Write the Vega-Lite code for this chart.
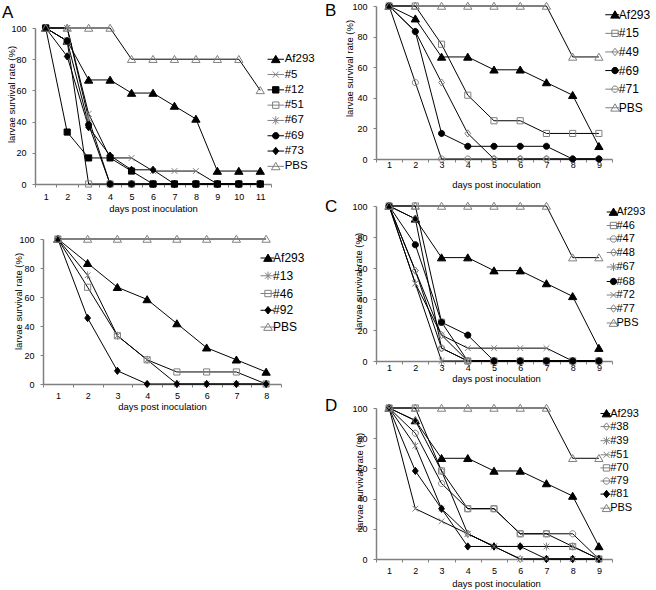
{
"$schema": "https://vega.github.io/schema/vega-lite/v6.json",
"autosize": {"type": "pad"},
"padding": {"left": 2, "top": 0, "right": 4, "bottom": 4},
"background": "white",
"config": {
  "view": {"stroke": null},
  "font": "Liberation Sans",
  "axis": {"labelFont": "Liberation Sans", "titleFont": "Liberation Sans", "labelFontSize": 9, "titleFontSize": 9.5, "titleFontWeight": "normal", "labelColor": "black", "titleColor": "black", "domainColor": "#808080", "domainWidth": 1.5, "tickColor": "#808080", "tickSize": 3, "grid": false},
  "legend": {"labelFont": "Liberation Sans", "labelColor": "black", "padding": 0, "symbolSize": 56, "symbolStrokeWidth": 1, "orient": "none"},
  "title": {"font": "Liberation Sans", "fontSize": 17, "fontWeight": "normal", "anchor": "start", "frame": "group", "offset": 0, "baseline": "bottom", "color": "black"}
},
"datasets": {
"atop": [
{"s":"Af293","d":1,"v":100},{"s":"Af293","d":2,"v":91.7},{"s":"Af293","d":3,"v":66.7},{"s":"Af293","d":4,"v":66.7},{"s":"Af293","d":5,"v":58.3},{"s":"Af293","d":6,"v":58.3},{"s":"Af293","d":7,"v":50},{"s":"Af293","d":8,"v":41.7},{"s":"Af293","d":9,"v":8.3},{"s":"Af293","d":10,"v":8.3},{"s":"Af293","d":11,"v":8.3},
{"s":"#5","d":1,"v":100},{"s":"#5","d":2,"v":100},{"s":"#5","d":3,"v":45},{"s":"#5","d":4,"v":16.7},{"s":"#5","d":5,"v":16.7},{"s":"#5","d":6,"v":8.3},{"s":"#5","d":7,"v":8.3},{"s":"#5","d":8,"v":8.3},{"s":"#5","d":9,"v":0},{"s":"#5","d":10,"v":0},{"s":"#5","d":11,"v":0},
{"s":"#51","d":1,"v":100},{"s":"#51","d":2,"v":91.7},{"s":"#51","d":3,"v":0},{"s":"#51","d":4,"v":0},{"s":"#51","d":5,"v":0},{"s":"#51","d":6,"v":0},{"s":"#51","d":7,"v":0},{"s":"#51","d":8,"v":0},{"s":"#51","d":9,"v":0},{"s":"#51","d":10,"v":0},{"s":"#51","d":11,"v":0},
{"s":"#67","d":1,"v":100},{"s":"#67","d":2,"v":100},{"s":"#67","d":3,"v":41.7},{"s":"#67","d":4,"v":0},{"s":"#67","d":5,"v":0},{"s":"#67","d":6,"v":0},{"s":"#67","d":7,"v":0},{"s":"#67","d":8,"v":0},{"s":"#67","d":9,"v":0},{"s":"#67","d":10,"v":0},{"s":"#67","d":11,"v":0},
{"s":"#69","d":1,"v":100},{"s":"#69","d":2,"v":91.7},{"s":"#69","d":3,"v":38},{"s":"#69","d":4,"v":0},{"s":"#69","d":5,"v":0},{"s":"#69","d":6,"v":0},{"s":"#69","d":7,"v":0},{"s":"#69","d":8,"v":0},{"s":"#69","d":9,"v":0},{"s":"#69","d":10,"v":0},{"s":"#69","d":11,"v":0},
{"s":"#73","d":1,"v":100},{"s":"#73","d":2,"v":81.8},{"s":"#73","d":3,"v":36.4},{"s":"#73","d":4,"v":18.2},{"s":"#73","d":5,"v":9.1},{"s":"#73","d":6,"v":9.1},{"s":"#73","d":7,"v":0},{"s":"#73","d":8,"v":0},{"s":"#73","d":9,"v":0},{"s":"#73","d":10,"v":0},{"s":"#73","d":11,"v":0},
{"s":"#12","d":1,"v":100},{"s":"#12","d":2,"v":33.3},{"s":"#12","d":3,"v":16.7},{"s":"#12","d":4,"v":16.7},{"s":"#12","d":5,"v":8.3},{"s":"#12","d":6,"v":0},{"s":"#12","d":7,"v":0},{"s":"#12","d":8,"v":0},{"s":"#12","d":9,"v":0},{"s":"#12","d":10,"v":0},{"s":"#12","d":11,"v":0},
{"s":"PBS","d":1,"v":100},{"s":"PBS","d":2,"v":100},{"s":"PBS","d":3,"v":100},{"s":"PBS","d":4,"v":100},{"s":"PBS","d":5,"v":80},{"s":"PBS","d":6,"v":80},{"s":"PBS","d":7,"v":80},{"s":"PBS","d":8,"v":80},{"s":"PBS","d":9,"v":80},{"s":"PBS","d":10,"v":80},{"s":"PBS","d":11,"v":60}
],
"abot": [
{"s":"Af293","d":1,"v":100},{"s":"Af293","d":2,"v":83.3},{"s":"Af293","d":3,"v":66.7},{"s":"Af293","d":4,"v":58.3},{"s":"Af293","d":5,"v":41.7},{"s":"Af293","d":6,"v":25},{"s":"Af293","d":7,"v":16.7},{"s":"Af293","d":8,"v":8.3},
{"s":"#13","d":1,"v":100},{"s":"#13","d":2,"v":75},{"s":"#13","d":3,"v":33.3},{"s":"#13","d":4,"v":16.7},{"s":"#13","d":5,"v":0},{"s":"#13","d":6,"v":0},{"s":"#13","d":7,"v":0},{"s":"#13","d":8,"v":0},
{"s":"#46","d":1,"v":100},{"s":"#46","d":2,"v":66.7},{"s":"#46","d":3,"v":33.3},{"s":"#46","d":4,"v":16.7},{"s":"#46","d":5,"v":8.3},{"s":"#46","d":6,"v":8.3},{"s":"#46","d":7,"v":8.3},{"s":"#46","d":8,"v":0},
{"s":"#92","d":1,"v":100},{"s":"#92","d":2,"v":45.5},{"s":"#92","d":3,"v":9.1},{"s":"#92","d":4,"v":0},{"s":"#92","d":5,"v":0},{"s":"#92","d":6,"v":0},{"s":"#92","d":7,"v":0},{"s":"#92","d":8,"v":0},
{"s":"PBS","d":1,"v":100},{"s":"PBS","d":2,"v":100},{"s":"PBS","d":3,"v":100},{"s":"PBS","d":4,"v":100},{"s":"PBS","d":5,"v":100},{"s":"PBS","d":6,"v":100},{"s":"PBS","d":7,"v":100},{"s":"PBS","d":8,"v":100}
],
"pb": [
{"s":"Af293","d":1,"v":100},{"s":"Af293","d":2,"v":91.7},{"s":"Af293","d":3,"v":66.7},{"s":"Af293","d":4,"v":66.7},{"s":"Af293","d":5,"v":58.3},{"s":"Af293","d":6,"v":58.3},{"s":"Af293","d":7,"v":50},{"s":"Af293","d":8,"v":41.7},{"s":"Af293","d":9,"v":8.3},
{"s":"#15","d":1,"v":100},{"s":"#15","d":2,"v":100},{"s":"#15","d":3,"v":75},{"s":"#15","d":4,"v":41.7},{"s":"#15","d":5,"v":25},{"s":"#15","d":6,"v":25},{"s":"#15","d":7,"v":16.7},{"s":"#15","d":8,"v":16.7},{"s":"#15","d":9,"v":16.7},
{"s":"#49","d":1,"v":100},{"s":"#49","d":2,"v":83.3},{"s":"#49","d":3,"v":50},{"s":"#49","d":4,"v":16.7},{"s":"#49","d":5,"v":0},{"s":"#49","d":6,"v":0},{"s":"#49","d":7,"v":0},{"s":"#49","d":8,"v":0},{"s":"#49","d":9,"v":0},
{"s":"#71","d":1,"v":100},{"s":"#71","d":2,"v":50},{"s":"#71","d":3,"v":0},{"s":"#71","d":4,"v":0},{"s":"#71","d":5,"v":0},{"s":"#71","d":6,"v":0},{"s":"#71","d":7,"v":0},{"s":"#71","d":8,"v":0},{"s":"#71","d":9,"v":0},
{"s":"#69","d":1,"v":100},{"s":"#69","d":2,"v":83.3},{"s":"#69","d":3,"v":16.7},{"s":"#69","d":4,"v":8.3},{"s":"#69","d":5,"v":8.3},{"s":"#69","d":6,"v":8.3},{"s":"#69","d":7,"v":8.3},{"s":"#69","d":8,"v":0},{"s":"#69","d":9,"v":0},
{"s":"PBS","d":1,"v":100},{"s":"PBS","d":2,"v":100},{"s":"PBS","d":3,"v":100},{"s":"PBS","d":4,"v":100},{"s":"PBS","d":5,"v":100},{"s":"PBS","d":6,"v":100},{"s":"PBS","d":7,"v":100},{"s":"PBS","d":8,"v":66.7},{"s":"PBS","d":9,"v":66.7}
],
"pc": [
{"s":"Af293","d":1,"v":100},{"s":"Af293","d":2,"v":91.7},{"s":"Af293","d":3,"v":66.7},{"s":"Af293","d":4,"v":66.7},{"s":"Af293","d":5,"v":58.3},{"s":"Af293","d":6,"v":58.3},{"s":"Af293","d":7,"v":50},{"s":"Af293","d":8,"v":41.7},{"s":"Af293","d":9,"v":8.3},
{"s":"#47","d":1,"v":100},{"s":"#47","d":2,"v":91.7},{"s":"#47","d":3,"v":8.3},{"s":"#47","d":4,"v":0},{"s":"#47","d":5,"v":0},{"s":"#47","d":6,"v":0},{"s":"#47","d":7,"v":0},{"s":"#47","d":8,"v":0},{"s":"#47","d":9,"v":0},
{"s":"#48","d":1,"v":100},{"s":"#48","d":2,"v":58.3},{"s":"#48","d":3,"v":16.7},{"s":"#48","d":4,"v":0},{"s":"#48","d":5,"v":0},{"s":"#48","d":6,"v":0},{"s":"#48","d":7,"v":0},{"s":"#48","d":8,"v":0},{"s":"#48","d":9,"v":0},
{"s":"#67","d":1,"v":100},{"s":"#67","d":2,"v":50},{"s":"#67","d":3,"v":0},{"s":"#67","d":4,"v":0},{"s":"#67","d":5,"v":0},{"s":"#67","d":6,"v":0},{"s":"#67","d":7,"v":0},{"s":"#67","d":8,"v":0},{"s":"#67","d":9,"v":0},
{"s":"#77","d":1,"v":100},{"s":"#77","d":2,"v":58.3},{"s":"#77","d":3,"v":8.3},{"s":"#77","d":4,"v":0},{"s":"#77","d":5,"v":0},{"s":"#77","d":6,"v":0},{"s":"#77","d":7,"v":0},{"s":"#77","d":8,"v":0},{"s":"#77","d":9,"v":0},
{"s":"#72","d":1,"v":100},{"s":"#72","d":2,"v":50},{"s":"#72","d":3,"v":16.7},{"s":"#72","d":4,"v":8.3},{"s":"#72","d":5,"v":8.3},{"s":"#72","d":6,"v":8.3},{"s":"#72","d":7,"v":8.3},{"s":"#72","d":8,"v":0},{"s":"#72","d":9,"v":0},
{"s":"#46","d":1,"v":100},{"s":"#46","d":2,"v":100},{"s":"#46","d":3,"v":25},{"s":"#46","d":4,"v":0},{"s":"#46","d":5,"v":0},{"s":"#46","d":6,"v":0},{"s":"#46","d":7,"v":0},{"s":"#46","d":8,"v":0},{"s":"#46","d":9,"v":0},
{"s":"#68","d":1,"v":100},{"s":"#68","d":2,"v":75},{"s":"#68","d":3,"v":25},{"s":"#68","d":4,"v":16.7},{"s":"#68","d":5,"v":0},{"s":"#68","d":6,"v":0},{"s":"#68","d":7,"v":0},{"s":"#68","d":8,"v":0},{"s":"#68","d":9,"v":0},
{"s":"PBS","d":1,"v":100},{"s":"PBS","d":2,"v":100},{"s":"PBS","d":3,"v":100},{"s":"PBS","d":4,"v":100},{"s":"PBS","d":5,"v":100},{"s":"PBS","d":6,"v":100},{"s":"PBS","d":7,"v":100},{"s":"PBS","d":8,"v":66.7},{"s":"PBS","d":9,"v":66.7}
],
"pd": [
{"s":"Af293","d":1,"v":100},{"s":"Af293","d":2,"v":91.7},{"s":"Af293","d":3,"v":66.7},{"s":"Af293","d":4,"v":66.7},{"s":"Af293","d":5,"v":58.3},{"s":"Af293","d":6,"v":58.3},{"s":"Af293","d":7,"v":50},{"s":"Af293","d":8,"v":41.7},{"s":"Af293","d":9,"v":8.3},
{"s":"#38","d":1,"v":100},{"s":"#38","d":2,"v":91.7},{"s":"#38","d":3,"v":58.3},{"s":"#38","d":4,"v":16.7},{"s":"#38","d":5,"v":8.3},{"s":"#38","d":6,"v":0},{"s":"#38","d":7,"v":0},{"s":"#38","d":8,"v":0},{"s":"#38","d":9,"v":0},
{"s":"#39","d":1,"v":100},{"s":"#39","d":2,"v":75},{"s":"#39","d":3,"v":33.3},{"s":"#39","d":4,"v":16.7},{"s":"#39","d":5,"v":8.3},{"s":"#39","d":6,"v":8.3},{"s":"#39","d":7,"v":8.3},{"s":"#39","d":8,"v":8.3},{"s":"#39","d":9,"v":0},
{"s":"#70","d":1,"v":100},{"s":"#70","d":2,"v":100},{"s":"#70","d":3,"v":58.3},{"s":"#70","d":4,"v":33.3},{"s":"#70","d":5,"v":33.3},{"s":"#70","d":6,"v":16.7},{"s":"#70","d":7,"v":16.7},{"s":"#70","d":8,"v":8.3},{"s":"#70","d":9,"v":0},
{"s":"#79","d":1,"v":100},{"s":"#79","d":2,"v":83.3},{"s":"#79","d":3,"v":50},{"s":"#79","d":4,"v":33.3},{"s":"#79","d":5,"v":33.3},{"s":"#79","d":6,"v":16.7},{"s":"#79","d":7,"v":16.7},{"s":"#79","d":8,"v":16.7},{"s":"#79","d":9,"v":0},
{"s":"#81","d":1,"v":100},{"s":"#81","d":2,"v":58.3},{"s":"#81","d":3,"v":33.3},{"s":"#81","d":4,"v":8.3},{"s":"#81","d":5,"v":8.3},{"s":"#81","d":6,"v":8.3},{"s":"#81","d":7,"v":0},{"s":"#81","d":8,"v":0},{"s":"#81","d":9,"v":0},
{"s":"#51","d":1,"v":100},{"s":"#51","d":2,"v":33.3},{"s":"#51","d":3,"v":25},{"s":"#51","d":4,"v":16.7},{"s":"#51","d":5,"v":8.3},{"s":"#51","d":6,"v":0},{"s":"#51","d":7,"v":0},{"s":"#51","d":8,"v":0},{"s":"#51","d":9,"v":0},
{"s":"PBS","d":1,"v":100},{"s":"PBS","d":2,"v":100},{"s":"PBS","d":3,"v":100},{"s":"PBS","d":4,"v":100},{"s":"PBS","d":5,"v":100},{"s":"PBS","d":6,"v":100},{"s":"PBS","d":7,"v":100},{"s":"PBS","d":8,"v":66.7},{"s":"PBS","d":9,"v":66.7}
]
},
"columns": 2,
"bounds": "flush",
"align": "all",
"spacing": {"row": 20, "column": 95},
"resolve": {"scale": {"shape": "independent", "fill": "independent", "stroke": "independent"}, "legend": {"shape": "independent", "fill": "independent", "stroke": "independent"}},
"concat": [
{
"width": 236, "height": 180,
"title": {"text": "A", "dx": -33, "dy": 20},
"data": {"name": "atop"},
"encoding": {
  "x": {"field": "d", "type": "ordinal", "scale": {"type": "band", "paddingInner": 0, "paddingOuter": 0}, "axis": {"title": "days post inoculation", "labelAngle": 0, "tickBand": "extent", "offset": -2, "labelPadding": 5, "titleX": 118, "titleY": 24, "titleBaseline": "middle"}},
  "y": {"field": "v", "type": "quantitative", "scale": {"domain": [0, 100], "nice": false, "range": [178, 22]}, "axis": {"values": [0,20,40,60,80,100], "title": "larvae survival rate (%)", "labelPadding": 6, "titleX": -23.6, "titleY": 88, "titleBaseline": "middle"}}
},
"layer": [
  {"mark": {"type": "line", "color": "black", "strokeWidth": 1}, "encoding": {"detail": {"field": "s"}}},
  {"mark": {"type": "point", "opacity": 1, "size": 52, "strokeWidth": 1},
   "encoding": {
     "shape": {"field": "s", "type": "nominal", "legend": null, "scale": {"domain": ["PBS","#73","#69","#67","#51","#12","#5","Af293"], "range": ["M0,-1.05L1.15,0.9L-1.15,0.9Z","M0,-1L0.8,0L0,1L-0.8,0Z","M-0.85,0A0.85,0.85,0,1,0,0.85,0A0.85,0.85,0,1,0,-0.85,0Z","M-0.8,-0.8L0.8,0.8M-0.8,0.8L0.8,-0.8M0,-1.1V1.1","M-0.85,-0.85H0.85V0.85H-0.85Z","M-0.85,-0.85H0.85V0.85H-0.85Z","M-0.8,-0.8L0.8,0.8M-0.8,0.8L0.8,-0.8","M0,-1.05L1.15,0.9L-1.15,0.9Z"]}},
     "fill": {"field": "s", "type": "nominal", "scale": {"domain": ["Af293","#5","#12","#51","#67","#69","#73","PBS"], "range": ["black","transparent","black","transparent","transparent","black","black","transparent"]},
       "legend": {"title": null, "legendX": 235, "legendY": 47.5, "labelFontSize": 11.5, "rowPadding": 2.3, "labelOffset": 3.2,
         "symbolType": {"expr": "'M-2.2,0H2.2' + ({'Af293':'M0,-1.05L1.15,0.9L-1.15,0.9Z','#5':'M-0.8,-0.8L0.8,0.8M-0.8,0.8L0.8,-0.8','#12':'M-0.85,-0.85H0.85V0.85H-0.85Z','#51':'M-0.85,-0.85H0.85V0.85H-0.85Z','#67':'M-0.8,-0.8L0.8,0.8M-0.8,0.8L0.8,-0.8M0,-1.1V1.1','#69':'M-0.85,0A0.85,0.85,0,1,0,0.85,0A0.85,0.85,0,1,0,-0.85,0Z','#73':'M0,-1L0.8,0L0,1L-0.8,0Z','PBS':'M0,-1.05L1.15,0.9L-1.15,0.9Z'})[datum.value]"}}},
     "stroke": {"field": "s", "type": "nominal", "scale": {"domain": ["Af293","#5","#12","#51","#67","#69","#73","PBS"], "range": ["black","#808080","black","#808080","#808080","black","black","#808080"]},
       "legend": {"title": null, "legendX": 235, "legendY": 47.5, "labelFontSize": 11.5, "rowPadding": 2.3, "labelOffset": 3.2,
         "symbolType": {"expr": "'M-2.2,0H2.2' + ({'Af293':'M0,-1.05L1.15,0.9L-1.15,0.9Z','#5':'M-0.8,-0.8L0.8,0.8M-0.8,0.8L0.8,-0.8','#12':'M-0.85,-0.85H0.85V0.85H-0.85Z','#51':'M-0.85,-0.85H0.85V0.85H-0.85Z','#67':'M-0.8,-0.8L0.8,0.8M-0.8,0.8L0.8,-0.8M0,-1.1V1.1','#69':'M-0.85,0A0.85,0.85,0,1,0,0.85,0A0.85,0.85,0,1,0,-0.85,0Z','#73':'M0,-1L0.8,0L0,1L-0.8,0Z','PBS':'M0,-1.05L1.15,0.9L-1.15,0.9Z'})[datum.value]"}}}
   }}
]
},
{
"width": 236, "height": 180,
"title": {"text": "B", "dx": -51, "dy": 24},
"data": {"name": "pb"},
"encoding": {
  "x": {"field": "d", "type": "ordinal", "scale": {"type": "band", "paddingInner": 0, "paddingOuter": 0}, "axis": {"title": "days post inoculation", "labelAngle": 0, "tickBand": "extent", "offset": -27, "labelPadding": -2, "titleX": 120, "titleY": 25, "titleBaseline": "middle"}},
  "y": {"field": "v", "type": "quantitative", "scale": {"domain": [0, 100], "nice": false, "range": [153, 0]}, "axis": {"values": [0,20,40,60,80,100], "title": "larvae survival rate (%)", "labelPadding": 6, "titleX": -26.7, "titleY": 62, "titleBaseline": "middle"}}
},
"layer": [
  {"mark": {"type": "line", "color": "black", "strokeWidth": 1}, "encoding": {"detail": {"field": "s"}}},
  {"mark": {"type": "point", "opacity": 1, "size": 52, "strokeWidth": 1},
   "encoding": {
     "shape": {"field": "s", "type": "nominal", "legend": null, "scale": {"domain": ["PBS","#71","#69","#49","#15","Af293"], "range": ["M0,-1.05L1.15,0.9L-1.15,0.9Z","M-0.85,0A0.85,0.85,0,1,0,0.85,0A0.85,0.85,0,1,0,-0.85,0Z","M-0.85,0A0.85,0.85,0,1,0,0.85,0A0.85,0.85,0,1,0,-0.85,0Z","M0,-1L0.8,0L0,1L-0.8,0Z","M-0.85,-0.85H0.85V0.85H-0.85Z","M0,-1.05L1.15,0.9L-1.15,0.9Z"]}},
     "fill": {"field": "s", "type": "nominal", "scale": {"domain": ["Af293","#15","#49","#69","#71","PBS"], "range": ["black","transparent","transparent","black","transparent","transparent"]},
       "legend": {"title": null, "legendX": 233, "legendY": 2.75, "labelFontSize": 12, "rowPadding": 6.6, "labelOffset": -2.2,
         "symbolType": {"expr": "'M-2.6,0H1.15' + ({'Af293':'M0,-1.05L1.15,0.9L-1.15,0.9Z','#15':'M-0.85,-0.85H0.85V0.85H-0.85Z','#49':'M0,-1L0.8,0L0,1L-0.8,0Z','#69':'M-0.85,0A0.85,0.85,0,1,0,0.85,0A0.85,0.85,0,1,0,-0.85,0Z','#71':'M-0.85,0A0.85,0.85,0,1,0,0.85,0A0.85,0.85,0,1,0,-0.85,0Z','PBS':'M0,-1.05L1.15,0.9L-1.15,0.9Z'})[datum.value]"}}},
     "stroke": {"field": "s", "type": "nominal", "scale": {"domain": ["Af293","#15","#49","#69","#71","PBS"], "range": ["black","#808080","#808080","black","#808080","#808080"]},
       "legend": {"title": null, "legendX": 233, "legendY": 2.75, "labelFontSize": 12, "rowPadding": 6.6, "labelOffset": -2.2,
         "symbolType": {"expr": "'M-2.6,0H1.15' + ({'Af293':'M0,-1.05L1.15,0.9L-1.15,0.9Z','#15':'M-0.85,-0.85H0.85V0.85H-0.85Z','#49':'M0,-1L0.8,0L0,1L-0.8,0Z','#69':'M-0.85,0A0.85,0.85,0,1,0,0.85,0A0.85,0.85,0,1,0,-0.85,0Z','#71':'M-0.85,0A0.85,0.85,0,1,0,0.85,0A0.85,0.85,0,1,0,-0.85,0Z','PBS':'M0,-1.05L1.15,0.9L-1.15,0.9Z'})[datum.value]"}}}
   }}
]
},
{
"width": 246, "height": 180,
"data": {"name": "abot"},
"encoding": {
  "x": {"field": "d", "type": "ordinal", "scale": {"type": "band", "paddingInner": 0, "paddingOuter": 0, "range": [8, 246]}, "axis": {"title": "days post inoculation", "labelAngle": 0, "tickBand": "extent", "offset": -2, "labelPadding": 4, "titleX": 127, "titleY": 22.3, "titleBaseline": "middle"}},
  "y": {"field": "v", "type": "quantitative", "scale": {"domain": [0, 100], "nice": false, "range": [178, 33]}, "axis": {"values": [0,20,40,60,80,100], "title": "larvae survival rate (%)", "offset": -8, "labelPadding": 6, "titleX": -25, "titleY": 95, "titleBaseline": "middle"}}
},
"layer": [
  {"mark": {"type": "line", "color": "black", "strokeWidth": 1}, "encoding": {"detail": {"field": "s"}}},
  {"mark": {"type": "point", "opacity": 1, "size": 52, "strokeWidth": 1},
   "encoding": {
     "shape": {"field": "s", "type": "nominal", "legend": null, "scale": {"domain": ["PBS","#92","#46","#13","Af293"], "range": ["M0,-1.05L1.15,0.9L-1.15,0.9Z","M0,-1L0.8,0L0,1L-0.8,0Z","M-0.85,-0.85H0.85V0.85H-0.85Z","M-0.8,-0.8L0.8,0.8M-0.8,0.8L0.8,-0.8M0,-1.1V1.1","M0,-1.05L1.15,0.9L-1.15,0.9Z"]}},
     "fill": {"field": "s", "type": "nominal", "scale": {"domain": ["Af293","#13","#46","#92","PBS"], "range": ["black","transparent","transparent","black","transparent"]},
       "legend": {"title": null, "legendX": 227, "legendY": 46, "labelFontSize": 12, "rowPadding": 4.75, "labelOffset": -0.9,
         "symbolType": {"expr": "'M-2,0H1.6' + ({'Af293':'M0,-1.05L1.15,0.9L-1.15,0.9Z','#13':'M-0.8,-0.8L0.8,0.8M-0.8,0.8L0.8,-0.8M0,-1.1V1.1','#46':'M-0.85,-0.85H0.85V0.85H-0.85Z','#92':'M0,-1L0.8,0L0,1L-0.8,0Z','PBS':'M0,-1.05L1.15,0.9L-1.15,0.9Z'})[datum.value]"}}},
     "stroke": {"field": "s", "type": "nominal", "scale": {"domain": ["Af293","#13","#46","#92","PBS"], "range": ["black","#808080","#808080","black","#808080"]},
       "legend": {"title": null, "legendX": 227, "legendY": 46, "labelFontSize": 12, "rowPadding": 4.75, "labelOffset": -0.9,
         "symbolType": {"expr": "'M-2,0H1.6' + ({'Af293':'M0,-1.05L1.15,0.9L-1.15,0.9Z','#13':'M-0.8,-0.8L0.8,0.8M-0.8,0.8L0.8,-0.8M0,-1.1V1.1','#46':'M-0.85,-0.85H0.85V0.85H-0.85Z','#92':'M0,-1L0.8,0L0,1L-0.8,0Z','PBS':'M0,-1.05L1.15,0.9L-1.15,0.9Z'})[datum.value]"}}}
   }}
]
},
{
"width": 236, "height": 180,
"title": {"text": "C", "dx": -51, "dy": 20},
"data": {"name": "pc"},
"encoding": {
  "x": {"field": "d", "type": "ordinal", "scale": {"type": "band", "paddingInner": 0, "paddingOuter": 0}, "axis": {"title": "days post inoculation", "labelAngle": 0, "tickBand": "extent", "offset": -25, "labelPadding": -0.5, "titleX": 120, "titleY": 17, "titleBaseline": "middle"}},
  "y": {"field": "v", "type": "quantitative", "scale": {"domain": [0, 100], "nice": false, "range": [155, 0]}, "axis": {"values": [0,20,40,60,80,100], "title": "larvae survival rate (%)", "labelPadding": 6, "titleX": -18, "titleY": 75, "titleBaseline": "middle"}}
},
"layer": [
  {"mark": {"type": "line", "color": "black", "strokeWidth": 1}, "encoding": {"detail": {"field": "s"}}},
  {"mark": {"type": "point", "opacity": 1, "size": 52, "strokeWidth": 1},
   "encoding": {
     "shape": {"field": "s", "type": "nominal", "legend": null, "scale": {"domain": ["PBS","#77","#72","#68","#67","#48","#47","#46","Af293"], "range": ["M0,-1.05L1.15,0.9L-1.15,0.9Z","M0,-1L0.8,0L0,1L-0.8,0Z","M-0.8,-0.8L0.8,0.8M-0.8,0.8L0.8,-0.8","M-0.85,0A0.85,0.85,0,1,0,0.85,0A0.85,0.85,0,1,0,-0.85,0Z","M-0.8,-0.8L0.8,0.8M-0.8,0.8L0.8,-0.8M0,-1.1V1.1","M0,-1L0.8,0L0,1L-0.8,0Z","M-0.85,0A0.85,0.85,0,1,0,0.85,0A0.85,0.85,0,1,0,-0.85,0Z","M-0.85,-0.85H0.85V0.85H-0.85Z","M0,-1.05L1.15,0.9L-1.15,0.9Z"]}},
     "fill": {"field": "s", "type": "nominal", "scale": {"domain": ["Af293","#46","#47","#48","#67","#68","#72","#77","PBS"], "range": ["black","transparent","transparent","transparent","transparent","black","transparent","transparent","transparent"]},
       "legend": {"title": null, "legendX": 232, "legendY": 0.5, "labelFontSize": 11, "rowPadding": 1.5, "labelOffset": -2.5,
         "symbolType": {"expr": "'M-1.8,0H0.9' + ({'Af293':'M0,-1.05L1.15,0.9L-1.15,0.9Z','#46':'M-0.85,-0.85H0.85V0.85H-0.85Z','#47':'M-0.85,0A0.85,0.85,0,1,0,0.85,0A0.85,0.85,0,1,0,-0.85,0Z','#48':'M0,-1L0.8,0L0,1L-0.8,0Z','#67':'M-0.8,-0.8L0.8,0.8M-0.8,0.8L0.8,-0.8M0,-1.1V1.1','#68':'M-0.85,0A0.85,0.85,0,1,0,0.85,0A0.85,0.85,0,1,0,-0.85,0Z','#72':'M-0.8,-0.8L0.8,0.8M-0.8,0.8L0.8,-0.8','#77':'M0,-1L0.8,0L0,1L-0.8,0Z','PBS':'M0,-1.05L1.15,0.9L-1.15,0.9Z'})[datum.value]"}}},
     "stroke": {"field": "s", "type": "nominal", "scale": {"domain": ["Af293","#46","#47","#48","#67","#68","#72","#77","PBS"], "range": ["black","#808080","#808080","#808080","#808080","black","#808080","#808080","#808080"]},
       "legend": {"title": null, "legendX": 232, "legendY": 0.5, "labelFontSize": 11, "rowPadding": 1.5, "labelOffset": -2.5,
         "symbolType": {"expr": "'M-1.8,0H0.9' + ({'Af293':'M0,-1.05L1.15,0.9L-1.15,0.9Z','#46':'M-0.85,-0.85H0.85V0.85H-0.85Z','#47':'M-0.85,0A0.85,0.85,0,1,0,0.85,0A0.85,0.85,0,1,0,-0.85,0Z','#48':'M0,-1L0.8,0L0,1L-0.8,0Z','#67':'M-0.8,-0.8L0.8,0.8M-0.8,0.8L0.8,-0.8M0,-1.1V1.1','#68':'M-0.85,0A0.85,0.85,0,1,0,0.85,0A0.85,0.85,0,1,0,-0.85,0Z','#72':'M-0.8,-0.8L0.8,0.8M-0.8,0.8L0.8,-0.8','#77':'M0,-1L0.8,0L0,1L-0.8,0Z','PBS':'M0,-1.05L1.15,0.9L-1.15,0.9Z'})[datum.value]"}}}
   }}
]
},
{
"width": 1, "height": 1,
"data": {"values": []},
"mark": {"type": "point", "opacity": 0}
},
{
"width": 236, "height": 180,
"title": {"text": "D", "dx": -51, "dy": 17},
"data": {"name": "pd"},
"encoding": {
  "x": {"field": "d", "type": "ordinal", "scale": {"type": "band", "paddingInner": 0, "paddingOuter": 0}, "axis": {"title": "days post inoculation", "labelAngle": 0, "tickBand": "extent", "offset": -27, "labelPadding": 4, "titleX": 120, "titleY": 24.7, "titleBaseline": "middle"}},
  "y": {"field": "v", "type": "quantitative", "scale": {"domain": [0, 100], "nice": false, "range": [153, 2]}, "axis": {"values": [0,20,40,60,80,100], "title": "larvae survival rate (%)", "labelPadding": 6, "titleX": -16.5, "titleY": 75, "titleBaseline": "middle"}}
},
"layer": [
  {"mark": {"type": "line", "color": "black", "strokeWidth": 1}, "encoding": {"detail": {"field": "s"}}},
  {"mark": {"type": "point", "opacity": 1, "size": 52, "strokeWidth": 1},
   "encoding": {
     "shape": {"field": "s", "type": "nominal", "legend": null, "scale": {"domain": ["PBS","#81","#79","#70","#51","#39","#38","Af293"], "range": ["M0,-1.05L1.15,0.9L-1.15,0.9Z","M0,-1L0.8,0L0,1L-0.8,0Z","M-0.85,0A0.85,0.85,0,1,0,0.85,0A0.85,0.85,0,1,0,-0.85,0Z","M-0.85,-0.85H0.85V0.85H-0.85Z","M-0.8,-0.8L0.8,0.8M-0.8,0.8L0.8,-0.8","M-0.8,-0.8L0.8,0.8M-0.8,0.8L0.8,-0.8M0,-1.1V1.1","M0,-1L0.8,0L0,1L-0.8,0Z","M0,-1.05L1.15,0.9L-1.15,0.9Z"]}},
     "fill": {"field": "s", "type": "nominal", "scale": {"domain": ["Af293","#38","#39","#51","#70","#79","#81","PBS"], "range": ["black","transparent","transparent","transparent","transparent","transparent","black","transparent"]},
       "legend": {"title": null, "legendX": 225, "legendY": 2, "labelFontSize": 11, "rowPadding": 1.1, "labelOffset": -1.8,
         "symbolType": {"expr": "'M-1.6,0H1' + ({'Af293':'M0,-1.05L1.15,0.9L-1.15,0.9Z','#38':'M0,-1L0.8,0L0,1L-0.8,0Z','#39':'M-0.8,-0.8L0.8,0.8M-0.8,0.8L0.8,-0.8M0,-1.1V1.1','#51':'M-0.8,-0.8L0.8,0.8M-0.8,0.8L0.8,-0.8','#70':'M-0.85,-0.85H0.85V0.85H-0.85Z','#79':'M-0.85,0A0.85,0.85,0,1,0,0.85,0A0.85,0.85,0,1,0,-0.85,0Z','#81':'M0,-1L0.8,0L0,1L-0.8,0Z','PBS':'M0,-1.05L1.15,0.9L-1.15,0.9Z'})[datum.value]"}}},
     "stroke": {"field": "s", "type": "nominal", "scale": {"domain": ["Af293","#38","#39","#51","#70","#79","#81","PBS"], "range": ["black","#808080","#808080","#808080","#808080","#808080","black","#808080"]},
       "legend": {"title": null, "legendX": 225, "legendY": 2, "labelFontSize": 11, "rowPadding": 1.1, "labelOffset": -1.8,
         "symbolType": {"expr": "'M-1.6,0H1' + ({'Af293':'M0,-1.05L1.15,0.9L-1.15,0.9Z','#38':'M0,-1L0.8,0L0,1L-0.8,0Z','#39':'M-0.8,-0.8L0.8,0.8M-0.8,0.8L0.8,-0.8M0,-1.1V1.1','#51':'M-0.8,-0.8L0.8,0.8M-0.8,0.8L0.8,-0.8','#70':'M-0.85,-0.85H0.85V0.85H-0.85Z','#79':'M-0.85,0A0.85,0.85,0,1,0,0.85,0A0.85,0.85,0,1,0,-0.85,0Z','#81':'M0,-1L0.8,0L0,1L-0.8,0Z','PBS':'M0,-1.05L1.15,0.9L-1.15,0.9Z'})[datum.value]"}}}
   }}
]
}
]
}
